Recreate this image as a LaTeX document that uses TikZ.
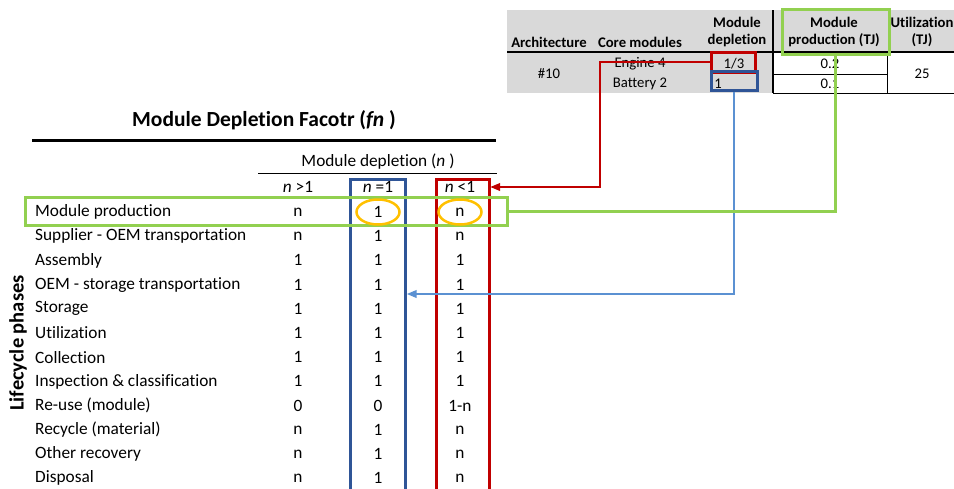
\documentclass[tikz,border=0pt]{standalone}
\usepackage{fontspec}
\setmainfont{Carlito}[Ligatures=NoCommon]
\usetikzlibrary{calc}
\usetikzlibrary{arrows}
\usetikzlibrary{shapes.geometric}
\usepackage{xcolor}
\definecolor{boxred}{RGB}{192,0,0}
\definecolor{boxblue}{RGB}{47,85,151}
\definecolor{lineblue}{RGB}{91,145,210}
\definecolor{boxgreen}{RGB}{146,208,80}
\definecolor{ringorange}{RGB}{255,192,0}
\definecolor{cellgray}{RGB}{217,217,217}

\begin{document}
\begin{tikzpicture}[x=1pt, y=-1pt,
  cell/.style={font=\fontsize{17.3}{20}\selectfont, inner sep=0pt, anchor=center},
  rowlab/.style={font=\fontsize{17.3}{20}\selectfont, inner sep=0pt, anchor=west},
  head/.style={font=\fontsize{14.7}{17}\selectfont\bfseries, inner sep=0pt, align=center},
  small/.style={font=\fontsize{14.7}{17}\selectfont, inner sep=0pt},
  frame/.style={draw=#1, line width=3pt, inner sep=0pt},
  ring/.style={draw=ringorange, line width=2.5pt, ellipse, inner sep=0pt, minimum width=43pt, minimum height=25pt}]
\useasboundingbox (0,0) rectangle (954,488);
% top right table
\fill[cellgray] (507,10) rectangle (954,52);
\fill[cellgray] (507,52) rectangle (773,93);
\draw[black, line width=2pt] (507,52)--(954,52);
\draw[black, line width=2.5pt] (773,10)--(773,93);
\draw[black, thin] (773,93)--(954,93);
\draw[black, thin] (773,74)--(887,74);
\draw[black, thin] (887,52)--(887,93);
\node[head] (harch) at (549,42) {Architecture};
\node[head] (hcore) at (640,42) {Core modules};
\node[head] (hdepl) at (737,32) {Module\\depletion};
\node[head] (hprod) at (834,32) {Module\\production (TJ)};
\node[head] (hutil) at (922,32) {Utilization\\(TJ)};
\node[small] (arch) at (549,74) {\#10};
\node[small] (eng) at (640,64) {Engine 4};
\node[small] (bat) at (640,84) {Battery 2};
\node[small] (dthird) at (734,64) {1/3};
\node[small] (done) at (718,84) {1};
\node[small] (pa) at (830,64) {0.2};
\node[small] (pb) at (830,84) {0.1};
\node[small] (util) at (922,74) {25};
\node[frame=boxred, minimum width=44pt, minimum height=20pt] (thirdbox) at (733,62) {};
\node[frame=boxblue, minimum width=46pt, minimum height=19pt] (onebox) at (734,80.5) {};
\node[frame=boxgreen, minimum width=107pt, minimum height=45pt] (prodbox) at (835.5,31.5) {};
% main table
\node[font=\fontsize{21.5}{25}\selectfont\bfseries, inner sep=0pt] (title) at (264,120) {Module Depletion Facotr (\textit{fn} )};
\draw[black, line width=3pt] (32,140)--(496,140);
\node[cell] (mdep) at (378,162) {Module depletion (\textit{n} )};
\draw[black, thin] (258,173)--(497,173);
\node[cell] (hgt) at (298,187) {\textit{n} >1};
\node[cell] (heq) at (378,187) {\textit{n} =1};
\node[cell] (hlt) at (460,187) {\textit{n} <1};
\foreach \x in {298,378,460} {
 \draw[gray, thin] (\x-37,197)--++(74,0);
}
\foreach \lab/\va/\vb/\vc [count=\i from 0] in {Module production/n/1/n, Supplier - OEM transportation/n/1/n, Assembly/1/1/1, OEM - storage transportation/1/1/1, Storage/1/1/1, Utilization/1/1/1, Collection/1/1/1, Inspection \& classification/1/1/1, Re-use (module)/0/0/1-n, Recycle (material)/n/1/n, Other recovery/n/1/n, Disposal/n/1/n} {
 \node[rowlab] (r\i) at (35,{212+24.2*\i}) {\lab};
 \node[cell] (v\i-1) at (298,{212+24.2*\i}) {\va};
 \node[cell] (v\i-2) at (378,{212+24.2*\i}) {\vb};
 \node[cell] (v\i-3) at (460,{212+24.2*\i}) {\vc};
}
\node[font=\fontsize{20.5}{24}\selectfont\bfseries, inner sep=0pt, rotate=90] (phases) at (18,343) {Lifecycle phases};
\node[frame=boxblue, minimum width=55pt, minimum height=330pt] (eqcol) at (378,344) {};
\node[frame=boxred, minimum width=53pt, minimum height=330pt] (ltcol) at (462.5,344) {};
\node[frame=boxgreen, minimum width=482pt, minimum height=28pt] (prodrow) at (266,211) {};
\node[ring] (ringa) at (v0-2) {};
\node[ring] (ringb) at (v0-3) {};
% connectors
\coordinate (rbend) at (600,187);
\coordinate (bbend) at (734,294);
\draw[boxred, line width=1.2pt, -triangle 45] (thirdbox.west) -| (rbend) -- (ltcol.east |- rbend);
\draw[lineblue, line width=1.2pt, -triangle 45] (onebox.south) -- (bbend) -- (eqcol.east |- bbend);
\draw[boxgreen, line width=3pt] (prodbox.south) |- (prodrow.east);
\end{tikzpicture}
\end{document}
